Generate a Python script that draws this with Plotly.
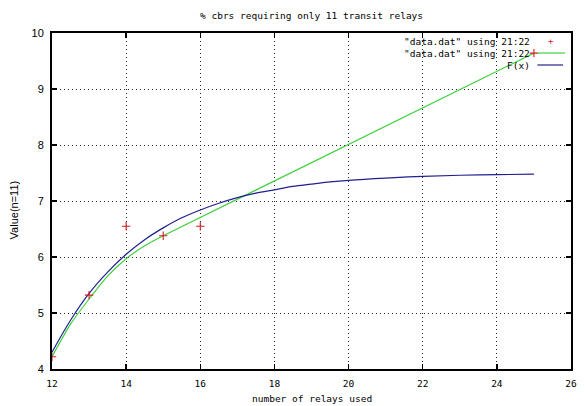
import plotly.graph_objects as go

# ---- data ----
points_x = [12, 13, 14, 15, 16, 25]
points_y = [4.22, 5.32, 6.55, 6.38, 6.55, 9.64]

smooth_x = [12, 12.5, 13, 13.5, 14, 14.5, 15, 25]
smooth_y = [4.22, 4.80, 5.25, 5.66, 5.97, 6.20, 6.38, 9.64]

fx_x = [12, 12.5, 13, 13.5, 14, 14.5, 15, 15.5, 16, 16.5, 17, 17.5, 18, 18.5,
        19, 19.5, 20, 21, 22, 23, 24, 25]
fx_y = [4.30, 4.87, 5.35, 5.73, 6.05, 6.31, 6.52, 6.70, 6.84, 6.96, 7.06, 7.14,
        7.20, 7.26, 7.30, 7.34, 7.37, 7.41, 7.44, 7.46, 7.47, 7.48]

x_ticks = [12, 14, 16, 18, 20, 22, 24, 26]
y_ticks = [4, 5, 6, 7, 8, 9, 10]

title_text = "% cbrs requiring only 11 transit relays"
x_label = "number of relays used"
y_label = "Value(n=11)"
legend_labels = ['"data.dat" using 21:22', '"data.dat" using 21:22', "F(x)"]

RED = "#d02020"
GREEN = "#40d040"
BLUE = "#202090"
MONO = "DejaVu Sans Mono"
SANS = "Liberation Sans"

fig = go.Figure()
fig.add_trace(go.Scatter(x=smooth_x, y=smooth_y, mode="lines",
                         line=dict(color=GREEN, width=1.2, shape="spline", smoothing=0.6),
                         showlegend=False, hoverinfo="skip"))
fig.add_trace(go.Scatter(x=fx_x, y=fx_y, mode="lines",
                         line=dict(color=BLUE, width=1.2, shape="spline"),
                         showlegend=False, hoverinfo="skip"))
fig.add_trace(go.Scatter(x=points_x, y=points_y, mode="markers",
                         marker=dict(symbol="cross-thin-open", size=6, color=RED,
                                     line=dict(color=RED, width=1.1)),
                         showlegend=False, hoverinfo="skip"))

# plot area in pixels: x 52..577, y 33..369
L, R, T, B = 52, 585 - 577, 33, 406 - 369
W, H = 585, 406
pw, ph = W - L - R, H - T - B


def px(xp):
    return (xp - L) / pw


def py(yp):
    return (H - B - yp) / ph


axis_common = dict(showline=True, linecolor="black", linewidth=2, mirror="ticks",
                   ticks="inside", ticklen=5, tickwidth=1.5, tickcolor="black",
                   showgrid=True, gridcolor="#222222", gridwidth=1, griddash="1px,3px",
                   zeroline=False)

fig.update_xaxes(range=[12, 26], tickvals=x_ticks, ticktext=[str(v) for v in x_ticks],
                 tickfont=dict(family=MONO, size=9.5, color="black"), ticklabelstandoff=5,
                 **axis_common)
fig.update_yaxes(range=[4, 10], tickvals=y_ticks, ticktext=[str(v) for v in y_ticks],
                 tickfont=dict(family=SANS, size=11, color="black"), ticklabelstandoff=4,
                 **axis_common)

annotations = [
    dict(text=title_text, x=px(315), y=py(16), xref="paper", yref="paper",
         showarrow=False, font=dict(family=MONO, size=9.5, color="black"),
         xanchor="center", yanchor="middle"),
    dict(text=x_label, x=px(315), y=py(398), xref="paper", yref="paper",
         showarrow=False, font=dict(family=MONO, size=9.5, color="black"),
         xanchor="center", yanchor="middle"),
    dict(text=y_label, x=px(14), y=py(210), xref="paper", yref="paper",
         showarrow=False, textangle=-90, font=dict(family=SANS, size=11, color="black"),
         xanchor="center", yanchor="middle"),
]
rows_y = [41, 53, 65]
for lab, ry in zip(legend_labels, rows_y):
    annotations.append(dict(text=lab, x=px(538), y=py(ry), xref="paper", yref="paper",
                            showarrow=False, font=dict(family=MONO, size=9.5, color="black"),
                            xanchor="right", yanchor="middle"))
# legend sample for points
annotations.append(dict(text="+", x=px(557), y=py(rows_y[0]), xref="paper", yref="paper",
                        showarrow=False, font=dict(family=MONO, size=9, color=RED),
                        xanchor="center", yanchor="middle"))

shapes = [
    dict(type="line", xref="paper", yref="paper", x0=px(543), x1=px(571),
         y0=py(rows_y[1]), y1=py(rows_y[1]), line=dict(color=GREEN, width=1.2)),
    dict(type="line", xref="paper", yref="paper", x0=px(543), x1=px(569),
         y0=py(rows_y[2]), y1=py(rows_y[2]), line=dict(color=BLUE, width=1.2)),
]

fig.update_layout(width=W, height=H, margin=dict(l=L, r=R, t=T, b=B, pad=0),
                  paper_bgcolor="white", plot_bgcolor="white", hovermode=False,
                  annotations=annotations, shapes=shapes, showlegend=False)

fig.write_html("out.html", config={"displayModeBar": False, "staticPlot": True},
               post_script="document.body.style.margin='0';document.body.style.overflow='hidden';")
